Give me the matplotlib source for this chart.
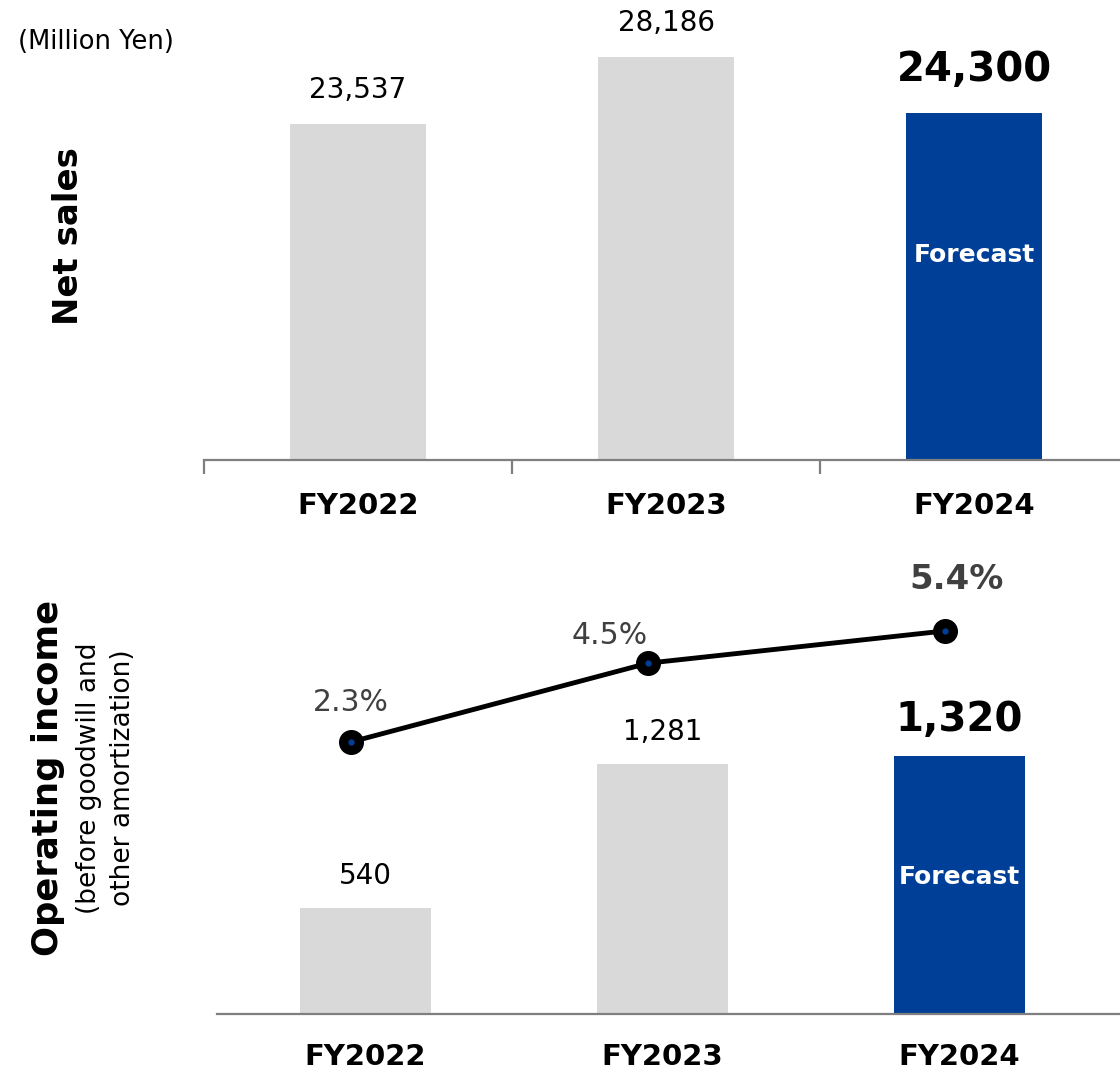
import numpy as np
import matplotlib
matplotlib.use("Agg")
from matplotlib import pyplot as plt

# data
years = ["FY2022", "FY2023", "FY2024"]
net_sales = [23537, 28186, 24300]
op_income = [540, 1281, 1320]
op_margin = [2.3, 4.5, 5.4]
is_forecast = [False, False, True]

GRAY = "#D9D9D9"
BLUE = "#003F98"
AXIS = "#7F7F7F"
TXT = "#000000"
PCT = "#404040"

W, H = 1120, 1073
plt.rcParams["font.family"] = ["DejaVu Sans"]

fig = plt.figure(figsize=(W / 100, H / 100), dpi=100)


def px_box(x0, y_top, x1, y_bot):
    return [x0 / W, 1 - y_bot / H, (x1 - x0) / W, (y_bot - y_top) / H]


def style_axis(ax):
    for side in ("left", "right", "top"):
        ax.spines[side].set_visible(False)
    ax.spines["bottom"].set_color(AXIS)
    ax.spines["bottom"].set_linewidth(1.6)
    ax.set_yticks([])


x = np.arange(len(years))
colors = [BLUE if f else GRAY for f in is_forecast]

# ---- top: net sales ----
ax1 = fig.add_axes(px_box(204, 0, 1120, 460))
style_axis(ax1)
ax1.bar(x, net_sales, width=0.44, color=colors, zorder=2)
ax1.set_xticks(x)
ax1.set_xticklabels(years, fontsize=21, fontweight="bold")
ax1.set_xticks(np.arange(-0.5, 2.0, 1), minor=True)
ax1.tick_params(axis="x", which="major", length=0, pad=23)
ax1.tick_params(axis="x", which="minor", length=10, width=1.6, color=AXIS)
ax1.set_xlim(-0.5, 2.474)
ax1.set_ylim(0, 32200)

for i, v in enumerate(net_sales):
    if is_forecast[i]:
        ax1.annotate(f"{v:,}", (i, v), xytext=(0, 31), textcoords="offset points",
                     ha="center", va="center", fontsize=29, fontweight="bold",
                     color=TXT, annotation_clip=False)
        ax1.text(i, v * 0.59, "Forecast", ha="center", va="center",
                 fontsize=18, fontweight="bold", color="white", zorder=3)
    else:
        ax1.annotate(f"{v:,}", (i, v), xytext=(0, 24.5), textcoords="offset points",
                     ha="center", va="center", fontsize=20, color=TXT,
                     annotation_clip=False)

fig.text(96 / W, 1 - 42 / H, "(Million Yen)", ha="center", va="center",
         fontsize=18.5, color=TXT)
fig.text(68 / W, 1 - 236 / H, "Net sales", ha="center", va="center",
         rotation=90, fontsize=24.5, fontweight="bold", color=TXT)

# ---- bottom: operating income + margin ----
ax2 = fig.add_axes(px_box(217, 560, 1120, 1014))
style_axis(ax2)
ax2.bar(x, op_income, width=0.44, color=colors, zorder=2)
ax2.set_xticks(x)
ax2.set_xticklabels(years, fontsize=21, fontweight="bold")
ax2.tick_params(axis="x", length=0, pad=21)
ax2.set_xlim(-0.5, 2.54)
ax2.set_ylim(0, 2322)

for i, v in enumerate(op_income):
    if is_forecast[i]:
        ax2.annotate(f"{v:,}", (i, v), xytext=(0, 26), textcoords="offset points",
                     ha="center", va="center", fontsize=29, fontweight="bold",
                     color=TXT, annotation_clip=False)
        ax2.text(i, v * 0.53, "Forecast", ha="center", va="center",
                 fontsize=18, fontweight="bold", color="white", zorder=3)
    else:
        ax2.annotate(f"{v:,}", (i, v), xytext=(0, 23), textcoords="offset points",
                     ha="center", va="center", fontsize=20, color=TXT,
                     annotation_clip=False)

ax3 = ax2.twinx()
ax3.set_ylim(-5.30, 7.38)
ax3.axis("off")
xl = x - 0.048
ax3.plot(xl, op_margin, color="black", lw=3.5, marker="o", ms=17,
         mfc="black", mec="black", zorder=4, clip_on=False)
ax3.plot(xl, op_margin, ls="none", marker="o", ms=3.5, mfc=BLUE, mec=BLUE,
         zorder=5, clip_on=False)

pct_offsets = [(0, 28), (-28, 20), (8, 37)]
for i, v in enumerate(op_margin):
    bold = is_forecast[i]
    ax3.annotate(f"{v:.1f}%", (xl[i], v), xytext=pct_offsets[i],
                 textcoords="offset points", ha="center", va="center",
                 fontsize=24.5 if bold else 21.5,
                 fontweight="bold" if bold else "normal", color=PCT,
                 annotation_clip=False)

fig.text(48 / W, 1 - 778 / H, "Operating income", ha="center", va="center",
         rotation=90, fontsize=25.5, fontweight="bold", color=TXT)
fig.text(106 / W, 1 - 778 / H, "(before goodwill and\nother amortization)",
         ha="center", va="center", rotation=90, fontsize=19, color=TXT,
         linespacing=1.35)

fig.savefig("out.png", dpi=100)
